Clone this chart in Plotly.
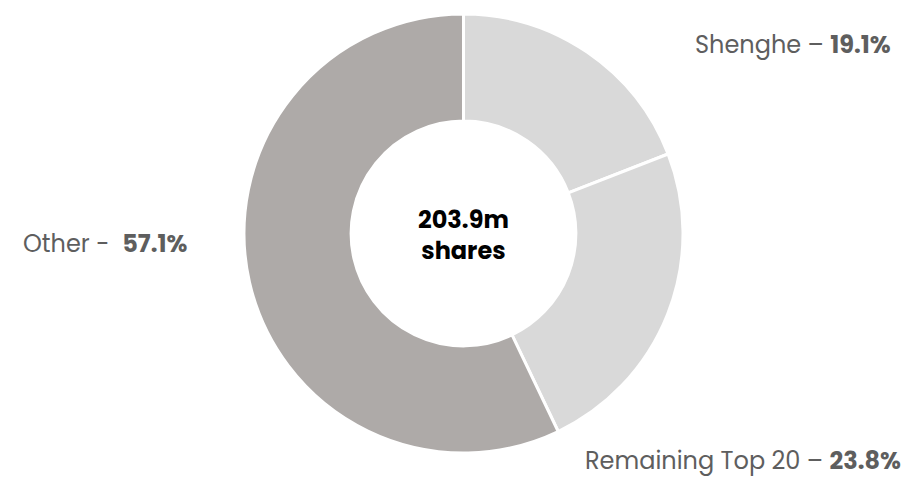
import plotly.graph_objects as go

labels = ["Shenghe", "Remaining Top 20", "Other"]
values = [19.1, 23.8, 57.1]
colors = ["#d9d9d9", "#d9d9d9", "#aeaaa8"]
label_texts = ["Shenghe – <b>19.1%</b>", "Remaining Top 20 – <b>23.8%</b>", "Other -  <b>57.1%</b>"]
center_text = "<b>203.9m<br>shares</b>"

FONT = "Poppins, 'Open Sans', sans-serif"

fig = go.Figure(go.Pie(
    labels=labels,
    values=values,
    hole=0.512,
    sort=False,
    direction="clockwise",
    rotation=0,
    marker=dict(colors=colors, line=dict(color="white", width=3)),
    textinfo="none",
    hoverinfo="label+percent",
    showlegend=False,
))

W, H, L, B, T = 907, 477, 20, 24, 14
pw, ph = W - L, H - B - T


def px(x):
    return (x - L) / pw


def py(y):
    return (H - y - B) / ph


ann_pos = [
    dict(x=px(893), y=py(44), xanchor="right"),
    dict(x=px(903), y=py(460), xanchor="right"),
    dict(x=px(21), y=py(243), xanchor="left"),
]
annotations = []
for t, p in zip(label_texts, ann_pos):
    annotations.append(dict(text=t, xref="paper", yref="paper", x=p["x"], y=p["y"],
                            xanchor=p["xanchor"], yanchor="middle", showarrow=False,
                            font=dict(family=FONT, size=24, color="#5e5e5e")))
annotations.append(dict(text=center_text, xref="paper", yref="paper", x=px(463.5),
                        y=py(235), xanchor="center", yanchor="middle", showarrow=False,
                        font=dict(family=FONT, size=24, color="#000000")))

fig.update_layout(
    width=W, height=H,
    margin=dict(l=L, r=0, t=T, b=B),
    paper_bgcolor="white",
    plot_bgcolor="white",
    annotations=annotations,
)

fig.write_html("out.html")
